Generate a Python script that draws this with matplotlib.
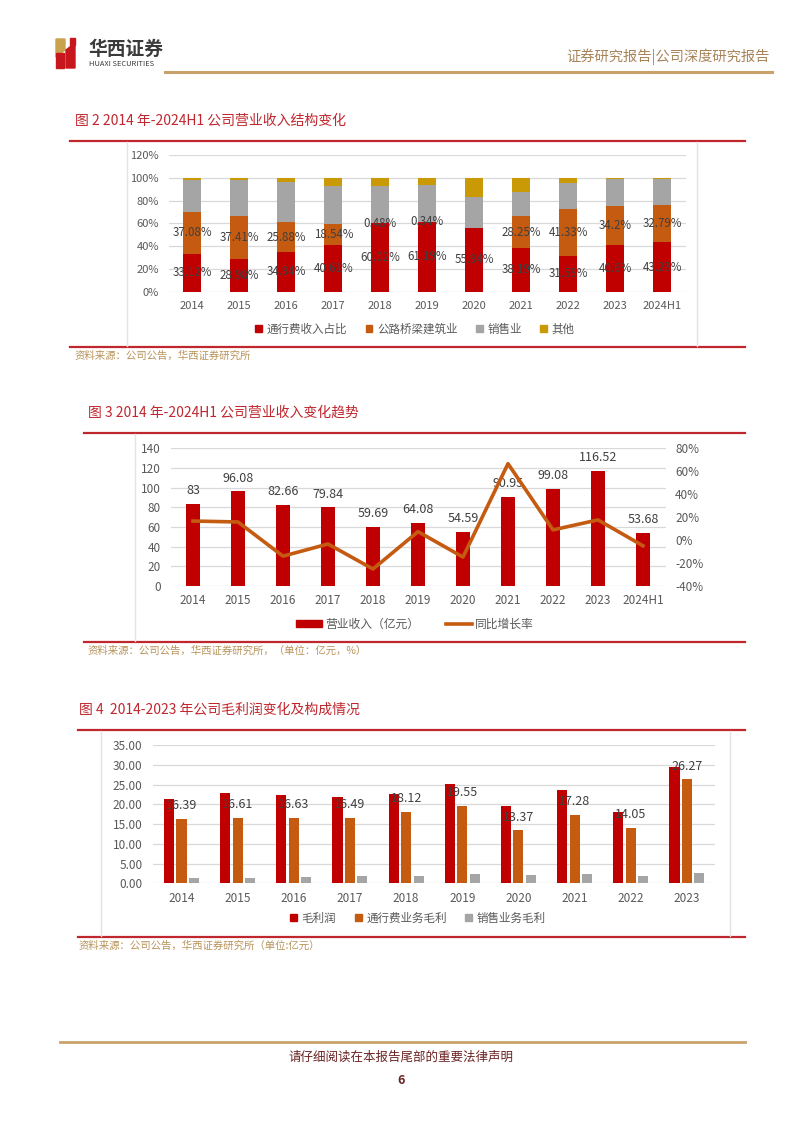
import matplotlib
matplotlib.use('Agg')
import matplotlib.pyplot as plt
from matplotlib.patches import Patch, Polygon, Rectangle
from matplotlib.lines import Line2D
import numpy as np

plt.rcParams['font.family'] = ['Noto Sans CJK SC', 'DejaVu Sans']
plt.rcParams['axes.unicode_minus'] = False

W, H = 802, 1133

RED = '#C00000'
ORANGE = '#C55A11'
GREY = '#A5A5A5'
GOLD = '#C99A06'
TICK = '#595959'
LABEL = '#404040'
GRID = '#D9D9D9'
TITLE_RED = '#C0262D'
SOURCE = '#B8935A'

# chart 1: revenue structure (%)
years_a = ['2014', '2015', '2016', '2017', '2018', '2019', '2020',
           '2021', '2022', '2023', '2024H1']
toll_share = [33.12, 28.98, 34.94, 40.61, 60.02, 61.19, 55.94, 38.19, 31.58, 40.6, 43.23]
build_share = [37.08, 37.41, 25.88, 18.54, 0.48, 0.34, 0, 28.25, 41.33, 34.2, 32.79]
sales_share = [28.2, 32.1, 35.7, 33.4, 32.7, 32.0, 27.3, 21.3, 22.7, 23.7, 22.5]
other_share = [1.6, 1.5, 3.5, 7.4, 6.8, 6.5, 16.8, 12.3, 4.4, 1.5, 1.5]
share_names = ['通行费收入占比', '公路桥梁建筑业', '销售业', '其他']

# chart 2: revenue (100m yuan) and yoy growth (%)
revenue = [83, 96.08, 82.66, 79.84, 59.69, 64.08, 54.59, 90.95, 99.08, 116.52, 53.68]
yoy = [16.6, 15.8, -14.0, -3.4, -25.2, 7.4, -14.8, 66.6, 8.9, 17.6, -5.0]

# chart 3: gross profit (100m yuan)
years_c = ['2014', '2015', '2016', '2017', '2018', '2019', '2020', '2021', '2022', '2023']
gross_profit = [21.3, 22.8, 22.3, 21.8, 22.6, 25.1, 19.6, 23.6, 18.0, 29.4]
toll_profit = [16.39, 16.61, 16.63, 16.49, 18.12, 19.55, 13.37, 17.28, 14.05, 26.27]
sales_profit = [1.3, 1.3, 1.7, 1.9, 1.9, 2.35, 2.2, 2.35, 1.9, 2.6]
profit_names = ['毛利润', '通行费业务毛利', '销售业务毛利']


def box(l, t, r, b):
    """Axes placed by pixel edges (top-left origin)."""
    return fig.add_axes([l / W, 1 - b / H, (r - l) / W, (b - t) / H])


def style_axes(ax, size):
    for s in ax.spines.values():
        s.set_visible(False)
    ax.tick_params(length=0, labelsize=size, labelcolor=TICK)
    ax.grid(axis='y', color=GRID, lw=0.9)
    ax.set_axisbelow(True)


fig = plt.figure(figsize=(W / 100, H / 100), dpi=100)

# page overlay in pixel coordinates
ov = fig.add_axes([0, 0, 1, 1], zorder=-1)
ov.set_xlim(0, W)
ov.set_ylim(H, 0)
ov.axis('off')

# header logo + names
ov.add_patch(Polygon([(56, 39), (65, 39), (65, 50), (56, 57)], color='#C9A24E'))
ov.add_patch(Rectangle((56, 53), 8, 15, color='#C8161D'))
ov.add_patch(Polygon([(66, 50), (75, 43), (75, 68), (66, 68)], color='#C8161D'))
ov.add_patch(Rectangle((70, 38), 5, 7, color='#C8161D'))
ov.text(88, 49, '华西证券', fontsize=13.5, fontweight='bold', color='#3A3A3A', va='center')
ov.text(89, 64, 'HUAXI SECURITIES', fontsize=5.4, color='#3A3A3A', va='center')
ov.text(770, 57, '证券研究报告|公司深度研究报告', fontsize=10.3, color='#A8845A',
        ha='right', va='center')
ov.plot([165, 772], [72, 72], color='#C9A26B', lw=2.2)

# section frames
for y0, y1, x0, x1, title, src, tx in [
    (141, 347, 70, 745, '图 2 2014 年-2024H1 公司营业收入结构变化', '资料来源：公司公告，华西证券研究所', 75),
    (433, 642, 84, 745, '图 3 2014 年-2024H1 公司营业收入变化趋势',
     '资料来源：公司公告，华西证券研究所，（单位：亿元，%）', 88),
    (730, 937, 78, 745, '图 4  2014-2023 年公司毛利润变化及构成情况',
     '资料来源：公司公告，华西证券研究所（单位:亿元）', 79),
]:
    ov.plot([x0, x1], [y0, y0], color=TITLE_RED, lw=1.6)
    ov.plot([x0, x1], [y1, y1], color=TITLE_RED, lw=1.6)
    ov.text(tx, y0 - 20, title, fontsize=10, color=TITLE_RED, va='center')
    ov.text(tx, y1 + 9, src, fontsize=7.5, color=SOURCE, va='center')

for x, y0, y1 in [(127, 142, 346), (697, 142, 346), (135, 434, 641), (101, 731, 936), (730, 731, 936)]:
    ov.plot([x, x], [y0, y1], color='#E3E3E3', lw=1)

# footer
ov.plot([60, 745], [1042, 1042], color='#C9A26B', lw=2)
ov.text(401, 1057, '请仔细阅读在本报告尾部的重要法律声明', fontsize=9, color='#6B2222',
        ha='center', va='center')
ov.text(401, 1081, '6', fontsize=9, color='#6B2222', ha='center', va='center',
        fontweight='bold', style='italic')

# ---------- chart 1 ----------
ax1 = box(168.8, 155, 685.8, 291.7)
style_axes(ax1, 8)
x1 = np.arange(len(years_a))
w1 = 0.38
bottom = np.zeros(len(years_a))
for vals, col in zip([toll_share, build_share, sales_share, other_share], [RED, ORANGE, GREY, GOLD]):
    ax1.bar(x1, vals, w1, bottom=bottom, color=col)
    bottom = bottom + np.array(vals)
for i in range(len(years_a)):
    ax1.text(x1[i], toll_share[i] / 2, f'{toll_share[i]:g}%', ha='center', va='center',
             fontsize=8.3, color=LABEL)
    if build_share[i] > 0:
        ax1.text(x1[i], toll_share[i] + build_share[i] / 2, f'{build_share[i]:g}%',
                 ha='center', va='center', fontsize=8.3, color=LABEL)
ax1.set_xlim(-0.5, len(years_a) - 0.5)
ax1.set_ylim(0, 120)
ax1.set_yticks(np.arange(0, 121, 20))
ax1.set_yticklabels([f'{v}%' for v in range(0, 121, 20)])
ax1.set_xticks(x1)
ax1.set_xticklabels(years_a)
ax1.tick_params(axis='y', pad=7)
ax1.tick_params(axis='x', pad=7)
fig.legend([Patch(color=c) for c in [RED, ORANGE, GREY, GOLD]], share_names,
           loc='center', bbox_to_anchor=(415 / W, 1 - 329 / H), ncol=4, frameon=False,
           fontsize=8.3, handlelength=0.6, handleheight=0.6, handletextpad=0.4,
           columnspacing=1.6, labelcolor=TICK)

# ---------- chart 2 ----------
ax2 = box(170.5, 448.3, 665.5, 586)
style_axes(ax2, 8.5)
x2 = np.arange(len(years_a))
ax2.bar(x2, revenue, 0.31, color=RED)
for i, v in enumerate(revenue):
    ax2.annotate(f'{v:g}', (x2[i], v), xytext=(0, 5), textcoords='offset points',
                 ha='center', va='bottom', fontsize=9, color=LABEL)
ax2.set_xlim(-0.5, len(years_a) - 0.5)
ax2.set_ylim(0, 140)
ax2.set_yticks(np.arange(0, 141, 20))
ax2.set_xticks(x2)
ax2.set_xticklabels(years_a)
ax2.tick_params(axis='y', pad=7)
ax2.tick_params(axis='x', pad=6)
ax2b = ax2.twinx()
for s in ax2b.spines.values():
    s.set_visible(False)
ax2b.plot(x2, yoy, color=ORANGE, lw=2.6, zorder=3)
ax2b.set_ylim(-40, 80)
ax2b.set_yticks(np.arange(-40, 81, 20))
ax2b.set_yticklabels([f'{v}%' for v in range(-40, 81, 20)])
ax2b.tick_params(length=0, labelsize=8.5, labelcolor=TICK, pad=7)
fig.legend([Patch(color=RED), Line2D([], [], color=ORANGE, lw=2.6)],
           ['营业收入（亿元）', '同比增长率'], loc='center',
           bbox_to_anchor=(415 / W, 1 - 624 / H), ncol=2, frameon=False, fontsize=8.5,
           handlelength=2.2, handleheight=0.55, handletextpad=0.3, columnspacing=2.2,
           labelcolor=TICK)

# ---------- chart 3 ----------
ax3 = box(153.4, 745, 715, 883.3)
style_axes(ax3, 8.5)
x3 = np.arange(len(years_c))
w3 = 0.18
off = 0.222
ax3.bar(x3 - off, gross_profit, w3, color=RED)
ax3.bar(x3, toll_profit, w3, color=ORANGE)
ax3.bar(x3 + off, sales_profit, w3, color=GREY)
for i, v in enumerate(toll_profit):
    ax3.annotate(f'{v:.2f}', (x3[i], v), xytext=(0, 5), textcoords='offset points',
                 ha='center', va='bottom', fontsize=9, color=LABEL)
ax3.set_xlim(-0.5, len(years_c) - 0.5)
ax3.set_ylim(0, 35)
ax3.set_yticks(np.arange(0, 36, 5))
ax3.set_yticklabels([f'{v:.2f}' for v in range(0, 36, 5)])
ax3.set_xticks(x3)
ax3.set_xticklabels(years_c)
ax3.tick_params(axis='y', pad=8)
ax3.tick_params(axis='x', pad=6)
fig.legend([Patch(color=c) for c in [RED, ORANGE, GREY]], profit_names,
           loc='center', bbox_to_anchor=(418 / W, 1 - 918 / H), ncol=3, frameon=False,
           fontsize=8.3, handlelength=0.6, handleheight=0.6, handletextpad=0.4,
           columnspacing=1.6, labelcolor=TICK)

fig.savefig('out.png', dpi=100)
